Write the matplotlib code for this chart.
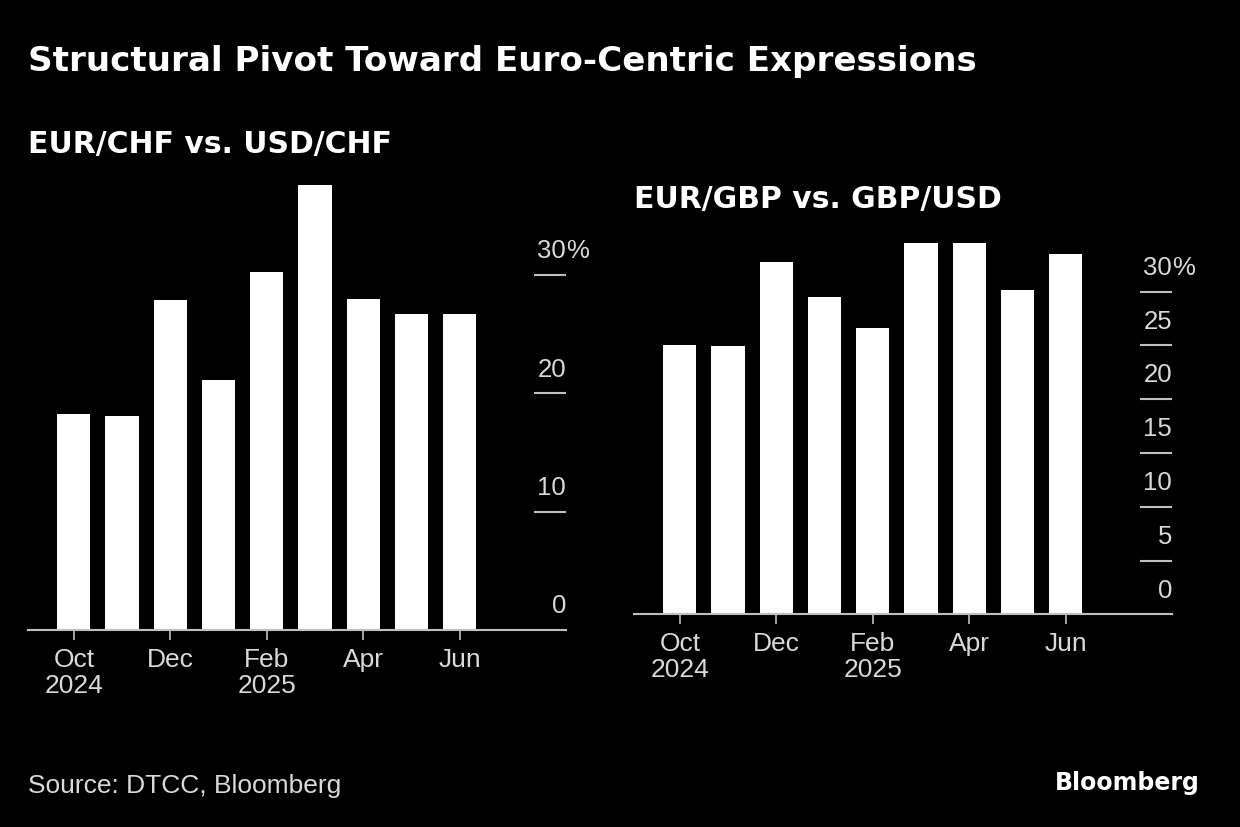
import matplotlib.pyplot as plt
from matplotlib.transforms import offset_copy

# --- data (share of volume, %) ---
months = ["Oct 2024", "Nov 2024", "Dec 2024", "Jan 2025", "Feb 2025",
          "Mar 2025", "Apr 2025", "May 2025", "Jun 2025"]
eur_chf = [18.3, 18.1, 27.9, 21.1, 30.3, 37.6, 28.0, 26.7, 26.7]
eur_gbp = [25.0, 24.9, 32.7, 29.5, 26.6, 34.5, 34.5, 30.1, 33.5]
xtick_pos = [0, 2, 4, 6, 8]
xtick_labels = ["Oct\n2024", "Dec", "Feb\n2025", "Apr", "Jun"]
left_yticks = [0, 10, 20, 30]
right_yticks = [0, 5, 10, 15, 20, 25, 30]

W, H = 1240, 828
BG = "black"
TXT = "#d9d9d9"
LINE = "#bfbfbf"
small_font = ["Liberation Sans", "DejaVu Sans"]
bold_font = ["DejaVu Sans", "Liberation Sans"]

fig = plt.figure(figsize=(W / 100, H / 100), dpi=100, facecolor=BG)


def box(x0, x1, y_top, y_base):
    # pixel box -> figure fraction rect
    return [x0 / W, 1 - y_base / H, (x1 - x0) / W, (y_base - y_top) / H]


def draw_panel(rect, values, yticks, ytop):
    ax = fig.add_axes(rect)
    ax.set_facecolor(BG)
    x = list(range(len(values)))
    ax.bar(x, values, width=0.69, color="white", edgecolor="none", zorder=2)
    ax.set_xlim(-0.95, 10.2)
    ax.set_ylim(0, ytop)

    for side in ["top", "left", "right"]:
        ax.spines[side].set_visible(False)
    ax.spines["bottom"].set_color(LINE)
    ax.spines["bottom"].set_linewidth(1.5)

    ax.set_xticks(xtick_pos)
    ax.set_xticklabels(xtick_labels, fontsize=19, color=TXT,
                       family=small_font, linespacing=1.1)
    ax.tick_params(axis="x", length=7, width=1.2, color=LINE, pad=5)
    ax.set_yticks([])

    # short tick lines with labels sitting on top, right side
    trans = ax.get_yaxis_transform()
    label_trans = offset_copy(trans, fig=fig, y=12.8, units="points")
    for v in yticks:
        if v > 0:
            ax.plot([0.941, 1.0], [v, v], transform=trans, color=LINE,
                    lw=1.5, solid_capstyle="butt", clip_on=False)
        ax.text(1.0, v, str(v), transform=label_trans, ha="right",
                va="baseline", fontsize=18.5, color=TXT, family=small_font)
        if v == yticks[-1]:
            ax.text(1.0, v, "%", transform=label_trans, ha="left",
                    va="baseline", fontsize=18.5, color=TXT, family=small_font)
    return ax


# left: EUR/CHF vs. USD/CHF  (0 at y=631 px, 11.83 px per unit)
draw_panel(box(28, 566, 180, 631), eur_chf, left_yticks, (631 - 180) / 11.83)
# right: EUR/GBP vs. GBP/USD  (0 at y=615 px, 10.76 px per unit)
draw_panel(box(634, 1172, 230, 615.3), eur_gbp, right_yticks, (615.3 - 230) / 10.76)

fig.text(28 / W, 1 - 62 / H, "Structural Pivot Toward Euro-Centric Expressions",
         fontsize=24.6, fontweight="bold", color="white", family=bold_font,
         ha="left", va="center")
fig.text(28 / W, 1 - 144 / H, "EUR/CHF vs. USD/CHF", fontsize=21.5,
         fontweight="bold", color="white", family=bold_font,
         ha="left", va="center")
fig.text(634 / W, 1 - 200 / H, "EUR/GBP vs. GBP/USD", fontsize=21.5,
         fontweight="bold", color="white", family=bold_font,
         ha="left", va="center")
fig.text(28 / W, 1 - 786 / H, "Source: DTCC, Bloomberg", fontsize=19,
         color=TXT, family=small_font, ha="left", va="center")
fig.text(1200 / W, 1 - 783 / H, "Bloomberg", fontsize=17, fontweight="bold",
         color="white", family=bold_font, ha="right", va="center")

fig.savefig("out.png", dpi=100, facecolor=BG)
